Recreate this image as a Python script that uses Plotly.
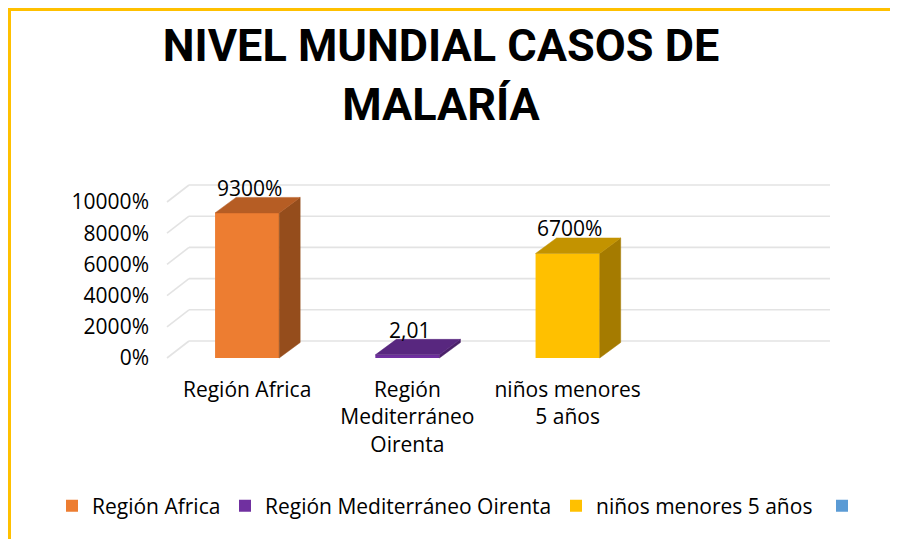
import plotly.graph_objects as go

# ---------------- data ----------------
categories = ["Región Africa", "Región Mediterráneo Oirenta", "niños menores 5 años", ""]
tick_text = ["Región Africa", "Región<br>Mediterráneo<br>Oirenta", "niños menores<br>5 años", ""]
series_names = ["Región Africa", "Región Mediterráneo Oirenta", "niños menores 5 años", ""]
values = [93, 2.01, 67, None]
value_labels = ["9300%", "2,01", "6700%", ""]
y_ticks = [0, 20, 40, 60, 80, 100]

front_colors = ["#ED7D31", "#7030A0", "#FFC000", "#5B9BD5"]
top_colors = ["#B65D24", "#58277F", "#C39300", "#4677A4"]
side_colors = ["#954D1C", "#4A2169", "#A57B00", "#3B6488"]

# ---------------- geometry (screen pixels) ----------------
W, H = 898, 539
OFF = 8                                   # page body margin
L, R, T, B = 150, 850, 170, 375          # plot area in screen pixels
X_FRONT_LEFT = 167                        # x = -0.5 on the front plane
XPPU = 160.25                             # pixels per category
Y0PX, Y100PX = 358, 202                   # front plane 0 and 100 (=10000%)
YPPU = (Y0PX - Y100PX) / 100.0

x_range = [-0.5 - (X_FRONT_LEFT - L) / XPPU, -0.5 + (R - X_FRONT_LEFT) / XPPU]
y_range = [-(B - Y0PX) / YPPU, (Y0PX - T) / YPPU]

GDX, GDY = 22 / XPPU, 17 / YPPU           # floor / wall depth
BDX, BDY = 21 / XPPU, 15.5 / YPPU         # bar depth
BAR_W = 0.4
n_cat = len(categories)

fig = go.Figure()

# front faces (bars) + legend entries
for i, (name, v) in enumerate(zip(series_names, values)):
    leg = "legend" if i == 0 else f"legend{i+1}"
    fig.add_trace(go.Bar(
        x=[i] if v is not None else [None],
        y=[v] if v is not None else [None],
        width=BAR_W, name=name if name else " ",
        marker=dict(color=front_colors[i], line=dict(width=0)),
        legend=leg, showlegend=True, hoverinfo="skip"))

# side and top faces
for i, v in enumerate(values):
    if v is None:
        continue
    w = BAR_W / 2
    xs = [i + w, i + w + BDX, i + w + BDX, i + w, i + w]
    ys = [0, BDY, v + BDY, v, 0]
    fig.add_trace(go.Scatter(x=xs, y=ys, fill="toself", mode="lines",
                             fillcolor=side_colors[i],
                             line=dict(width=0.5, color=side_colors[i]),
                             showlegend=False, hoverinfo="skip"))
    xt = [i - w, i + w, i + w + BDX, i - w + BDX, i - w]
    yt = [v, v, v + BDY, v + BDY, v]
    fig.add_trace(go.Scatter(x=xt, y=yt, fill="toself", mode="lines",
                             fillcolor=top_colors[i],
                             line=dict(width=0.5, color=top_colors[i]),
                             showlegend=False, hoverinfo="skip"))

# back wall gridlines (with diagonal side-wall part)
shapes = []
x_left = -0.5
x_right = n_cat - 0.5 + GDX
for t in y_ticks:
    shapes.append(dict(type="line", xref="x", yref="y", layer="below",
                       x0=x_left, y0=t, x1=x_left + GDX, y1=t + GDY,
                       line=dict(color="#E3E3E3", width=1.6)))
    shapes.append(dict(type="line", xref="x", yref="y", layer="below",
                       x0=x_left + GDX, y0=t + GDY, x1=x_right, y1=t + GDY,
                       line=dict(color="#E3E3E3", width=1.6)))

# yellow frame (top and left)
def px2paper_x(px):
    return (px - L) / (R - L)

def py2paper_y(py):
    return (B - py) / (B - T)

shapes.append(dict(type="line", xref="paper", yref="paper",
                   x0=px2paper_x(0), y0=py2paper_y(9.5), x1=px2paper_x(910), y1=py2paper_y(9.5),
                   line=dict(color="#FFC000", width=3)))
shapes.append(dict(type="line", xref="paper", yref="paper",
                   x0=px2paper_x(9.5), y0=py2paper_y(8), x1=px2paper_x(9.5), y1=py2paper_y(560),
                   line=dict(color="#FFC000", width=3)))

# data labels
annotations = []
for i, (v, lab) in enumerate(zip(values, value_labels)):
    if v is None or not lab:
        continue
    annotations.append(dict(x=i, y=v, xref="x", yref="y", text=lab, showarrow=False,
                            yshift=25, xshift=2,
                            font=dict(family="Open Sans", size=21, color="#000000")))

font_main = dict(family="Open Sans", size=21, color="#000000")

legend_text_px = [92, 265, 596, 862]
legend_y = 1 - (506 - OFF) / H
legends = {}
for i, tx in enumerate(legend_text_px):
    key = "legend" if i == 0 else f"legend{i+1}"
    legends[key] = dict(x=(tx - 40 - OFF) / W, xref="container", xanchor="left",
                        y=legend_y, yref="container", yanchor="middle",
                        orientation="h", font=font_main, bgcolor="rgba(0,0,0,0)",
                        borderwidth=0, itemwidth=30)

fig.update_layout(
    width=W, height=H,
    margin=dict(l=L - OFF, r=W - (R - OFF), t=T - OFF, b=H - (B - OFF), pad=0,
                autoexpand=False),
    paper_bgcolor="white", plot_bgcolor="white",
    barmode="overlay",
    showlegend=True,
    title=dict(text="NIVEL MUNDIAL CASOS DE<br>MALARÍA",
               font=dict(family="Roboto", size=45, color="#000000", weight="bold"),
               x=(441 - OFF) / W, xanchor="center", xref="container",
               y=1 - (61 - OFF) / H, yanchor="top", yref="container"),
    xaxis=dict(range=x_range, tickvals=list(range(n_cat)), ticktext=tick_text,
               showgrid=False, zeroline=False, showline=False, ticks="",
               tickfont=font_main, fixedrange=True, automargin=False),
    yaxis=dict(range=y_range, tickvals=y_ticks, tickformat=".0%",
               showgrid=False, zeroline=False, showline=False, ticks="",
               tickfont=font_main, fixedrange=True, automargin=False),
    shapes=shapes,
    annotations=annotations,
    **legends,
)

fig.write_html("out.html")
